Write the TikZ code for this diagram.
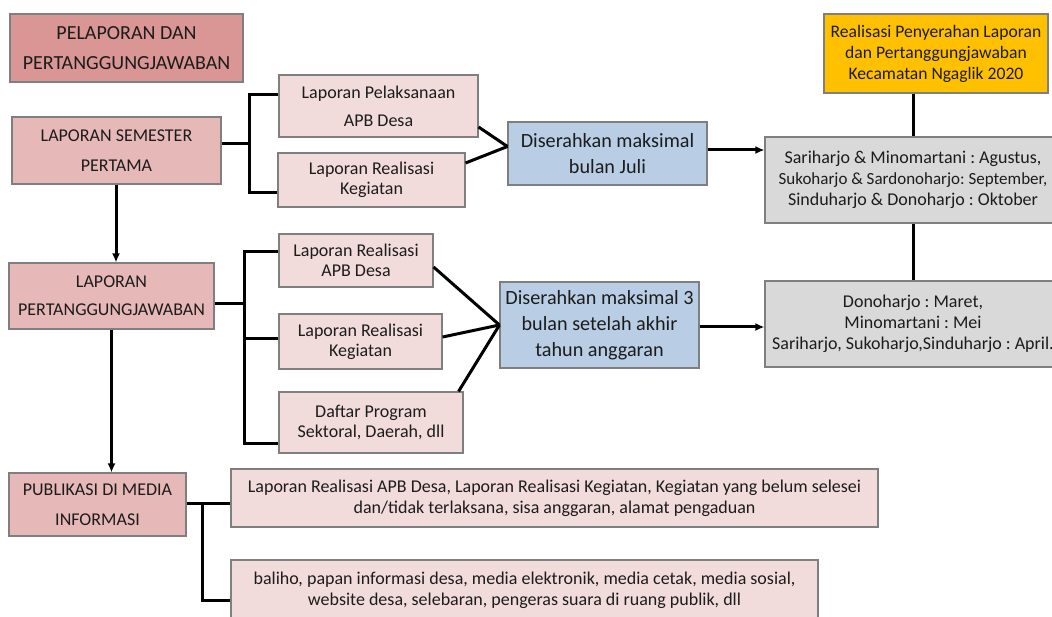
\documentclass[tikz,border=0pt]{standalone}
\usepackage{fontspec}
\setmainfont{Carlito}
\usetikzlibrary{arrows.meta}
\frenchspacing

\definecolor{roseDark}{HTML}{D99694}
\definecolor{roseMid}{HTML}{E6B9B8}
\definecolor{roseLight}{HTML}{F2DCDB}
\definecolor{paleBlue}{HTML}{B9CDE5}
\definecolor{amber}{HTML}{FFC000}
\definecolor{lightGrey}{HTML}{D9D9D9}
\definecolor{edgeGrey}{HTML}{7F7F7F}
\definecolor{ink}{HTML}{1C1C1C}

\tikzset{
  box/.style={draw=edgeGrey, line width=1.1pt, align=center, text=ink,
              inner sep=0pt, minimum width=#1},
  box/.default=100pt,
  headbox/.style={box=#1, fill=roseMid, font=\fontsize{18}{30}\selectfont},
  itembox/.style={box=#1, fill=roseLight, font=\fontsize{18}{20}\selectfont},
  duebox/.style={box=#1, fill=paleBlue, font=\fontsize{20.2}{26}\selectfont},
  datebox/.style={box=#1, fill=lightGrey, font=\fontsize{18}{21}\selectfont},
  conn/.style={line width=3pt, black},
  arr/.style={conn, -{Latex[length=9pt,width=8pt]}},
}

\begin{document}
\begin{tikzpicture}[x=1pt, y=-1pt]
\useasboundingbox (0,0) rectangle (1052,617);
\fill[white] (0,0) rectangle (1052,617);

% left column
\node[headbox=233pt, fill=roseDark, minimum height=68pt, font=\fontsize{20}{30}\selectfont]
  (title) at (126.5,48) {PELAPORAN DAN\\PERTANGGUNGJAWABAN};
\node[headbox=209pt, minimum height=67pt] (lsp) at (116.5,150.5) {LAPORAN SEMESTER\\PERTAMA};
\node[headbox=205pt, minimum height=66pt, font=\fontsize{18}{28}\selectfont]
  (lp) at (111.5,296) {LAPORAN\\PERTANGGUNGJAWABAN};
\node[headbox=177pt, minimum height=63pt] (pub) at (97.5,504.5) {PUBLIKASI DI MEDIA\\INFORMASI};

% semester report items
\node[itembox=199pt, minimum height=62pt, font=\fontsize{18}{28}\selectfont]
  (lpapb) at (378.5,106) {Laporan Pelaksanaan\\APB Desa};
\node[itembox=187pt, minimum height=54pt] (lrk1) at (371.5,180) {Laporan Realisasi\\Kegiatan};
\node[duebox=199pt, minimum height=63pt] (blue1) at (607.5,153.5) {Diserahkan maksimal\\bulan Juli};

% accountability report items
\node[itembox=154pt, minimum height=53pt] (lra2) at (356,260.5) {Laporan Realisasi\\APB Desa};
\node[itembox=163pt, minimum height=55pt] (lrk2) at (360.5,341.5) {Laporan Realisasi\\Kegiatan};
\node[itembox=184pt, minimum height=61pt] (daftar) at (371,422.5) {Daftar Program\\Sektoral, Daerah, dll};
\node[duebox=199pt, minimum height=86pt] (blue2) at (599.5,325) {Diserahkan maksimal 3\\bulan setelah akhir\\tahun anggaran};

% realisation column
\node[datebox=224pt, fill=amber, minimum height=79pt, font=\fontsize{17.6}{21}\selectfont]
  (yellow) at (936,53.5)
  {Realisasi Penyerahan Laporan\\dan Pertanggungjawaban\\Kecamatan Ngaglik 2020};
\node[datebox=296pt, minimum height=86pt] (grey1) at (913,180)
  {Sariharjo \& Minomartani : Agustus,\\{\fontsize{17}{21}\selectfont Sukoharjo \& Sardonoharjo: September,}\\Sinduharjo \& Donoharjo : Oktober};
\node[datebox=296pt, minimum height=86pt] (grey2) at (913,324)
  {Donoharjo : Maret,\\Minomartani : Mei\\Sariharjo, Sukoharjo,Sinduharjo : April.};

% publication items
\node[itembox=647pt, minimum height=58pt, font=\fontsize{18}{21}\selectfont] (wide1) at (554.5,498)
  {Laporan Realisasi APB Desa, Laporan Realisasi Kegiatan, Kegiatan yang belum selesei\\dan/tidak terlaksana, sisa anggaran, alamat pengaduan};
\node[itembox=587pt, minimum height=60pt, font=\fontsize{18}{21}\selectfont] (wide2) at (524.5,590)
  {baliho, papan informasi desa, media elektronik, media cetak, media sosial,\\website desa, selebaran, pengeras suara di ruang publik, dll};

% vertical flow on the left
\draw[arr] (lsp.south -| 116,0) -- (lp.north -| 116,0);
\draw[arr] (lp.south) -- (lp.south |- pub.north);

% semester bracket
\draw[conn] (lsp.east |- 0,144) -- (249,144);
\draw[conn] (lpapb.west |- 0,95) -| (249,193) -- (lrk1.west |- 0,193);
\draw[conn] ([yshift=-21pt]lpapb.east) -- ([yshift=7pt]blue1.west);
\draw[conn] ([yshift=17pt]lrk1.east) -- ([yshift=7pt]blue1.west);
\draw[arr] (blue1.east |- 0,150) -- (grey1.west |- 0,150);

% accountability bracket
\draw[conn] (lp.east |- 0,304) -- (244,304);
\draw[conn] (lra2.west |- 0,252) -| (244,443) -- (daftar.west |- 0,443);
\draw[conn] (244,339) -- (lrk2.west |- 0,339);
\draw[conn] ([yshift=-6.5pt]lra2.east) -- (blue2.west);
\draw[conn] ([yshift=4.5pt]lrk2.east) -- (blue2.west);
\draw[conn] ([xshift=-5pt]daftar.north east) -- (blue2.west);
\draw[arr] (blue2.east |- 0,327) -- (grey2.west |- 0,327);

% realisation links
\draw[conn] (yellow.south -| grey1.north) -- (grey1.north);
\draw[conn] (grey1.south) -- (grey2.north);

% publication bracket
\draw[conn] (pub.east |- 0,503) -- (wide1.west |- 0,503);
\draw[conn] (202,503) |- (wide2.west |- 0,600);
\end{tikzpicture}
\end{document}
